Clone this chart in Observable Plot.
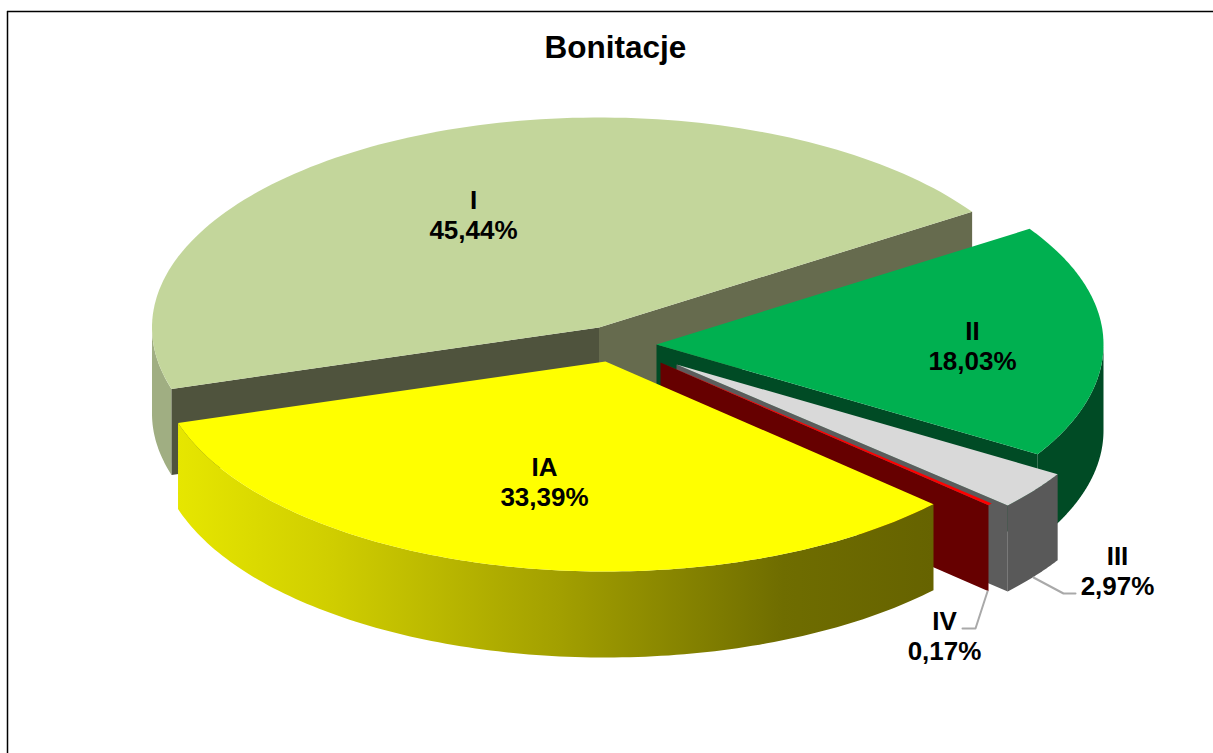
<!DOCTYPE html>
<html>
<head>
<meta charset="utf-8">
<style>html,body{margin:0;padding:0;background:#fff}svg{display:block}</style>
<script src="https://cdn.jsdelivr.net/npm/d3@7"></script>
<script src="https://cdn.jsdelivr.net/npm/@observablehq/plot@0.6"></script>
</head>
<body>
<div id="chart"></div>
<script>
// ---- data ----
const categories = ["I", "II", "III", "IV", "IA"];
const shares = [45.44, 18.03, 2.97, 0.17, 33.39];
const titleText = "Bonitacje";

// ---- 3D pie geometry and styling ----
const W = 1213, H = 753;
const rx = 447, ry = 210, depth = 86, firstAngle = 163;
const apex = {I:[598.5,327], II:[656,344], III:[676,364], IV:[660,362], IA:[605,361]};
const topFill = {I:"#c3d69b", II:"#00b050", III:"#d9d9d9", IV:"#ff0000", IA:"#ffff00"};
const wallFill = {I:"#a0ae82", II:"#004b25", III:"#595959", IV:"#660000", IA:"url(#iaWall)"};
const cutFill = {II:"#004b25", III:"#5c5c5c", IV:"#660000"};
const labelAt = {I:[473,214], II:[972,345], III:[1117,570], IV:[944,635], IA:[544,481]};
const leaders = {III:[[1033,577],[1063,593],[1075,593]], IV:[[987,591],[975,628],[962,628]]};

const rad = d => d * Math.PI / 180;
const total = d3.sum(shares);
let cursor = firstAngle;
const slices = categories.map((name, i) => {
  const a0 = cursor, a1 = cursor + shares[i] / total * 360;
  cursor = a1;
  return {name, value: shares[i], a0, a1};
});
const rim = (s, a, dy = 0) => [apex[s.name][0] + rx * Math.cos(rad(a)), apex[s.name][1] + ry * Math.sin(rad(a)) + dy];
const sweep = (s, a0, a1, dy = 0) => d3.range(0, 121).map(k => rim(s, a0 + (a1 - a0) * k / 120, dy));
// The outer wall shows only on the front half of the rim (0 to 180 degrees, clockwise from east).
const frontSpan = s => {
  for (const turn of [-360, 0, 360]) {
    const lo = Math.max(s.a0, turn), hi = Math.min(s.a1, turn + 180);
    if (hi > lo) return [lo, hi];
  }
  return null;
};

const polys = [];
const add = (id, fill, pts) => pts.forEach(p => polys.push({id, fill, x: p[0], y: p[1]}));
const cut = (s, a, fill, id) => {
  const c = apex[s.name], r = rim(s, a);
  add(id, fill, [c, r, [r[0], r[1] + depth], [c[0], c[1] + depth]]);
};
for (const s of slices) {
  const span = frontSpan(s);
  if (s.name !== "IV" && span) {
    add(s.name + "-wall", wallFill[s.name], [...sweep(s, span[0], span[1]), ...sweep(s, span[0], span[1], depth).reverse()]);
  }
  if (s.name === "I") {
    cut(s, s.a1, "#666b4e", "I-cut-back");
    cut(s, s.a0, "#4f533d", "I-cut-left");
  }
  if (s.name === "II" || s.name === "III" || s.name === "IV") cut(s, s.a1, cutFill[s.name], s.name + "-cut");
  add(s.name + "-top", topFill[s.name], [apex[s.name], ...sweep(s, s.a0, s.a1)]);
}

const labels = slices.map(s => ({
  x: labelAt[s.name][0], y: labelAt[s.name][1],
  text: s.name + "\n" + s.value.toFixed(2).replace(".", ",") + "%"
}));
const leaderPts = Object.entries(leaders).flatMap(([k, pts]) => pts.map(p => ({k, x: p[0], y: p[1]})));

const defs = () => {
  const d = d3.create("svg:defs");
  const g = d.append("linearGradient").attr("id", "iaWall").attr("gradientUnits", "userSpaceOnUse")
    .attr("x1", 178).attr("x2", 933).attr("y1", 0).attr("y2", 0);
  [[0,"#e6e600"],[0.2,"#d0ce00"],[0.5,"#a3a000"],[0.8,"#6f6d00"],[1,"#666300"]]
    .forEach(([o,c]) => g.append("stop").attr("offset", o).attr("stop-color", c));
  return d.node();
};

const chart = Plot.plot({
  width: W, height: H, margin: 0,
  x: {domain: [0, W], range: [0, W], axis: null},
  y: {domain: [0, H], range: [0, H], axis: null},
  color: {type: "identity"},
  style: {background: "#fff", fontFamily: "'Liberation Sans', Arial, sans-serif"},
  marks: [
    defs,
    Plot.ruleX([7], {y1: 11, y2: H, stroke: "#000", strokeWidth: 1.5}),
    Plot.ruleY([11], {x1: 7, x2: W, stroke: "#000", strokeWidth: 1.5}),
    Plot.line(polys, {x: "x", y: "y", z: "id", fill: "fill", stroke: "none", curve: "linear"}),
    Plot.line(leaderPts, {x: "x", y: "y", z: "k", stroke: "#a9a9a9", strokeWidth: 2, curve: "linear"}),
    Plot.text(labels, {x: "x", y: "y", text: "text", fontSize: 26, fontWeight: "bold", lineHeight: 1.16, fill: "#000"}),
    Plot.text([titleText], {x: () => 615, y: () => 47, text: d => d, fontSize: 31.5, fontWeight: "bold", fill: "#000"})
  ]
});
document.getElementById("chart").append(chart);
</script>
</body>
</html>
